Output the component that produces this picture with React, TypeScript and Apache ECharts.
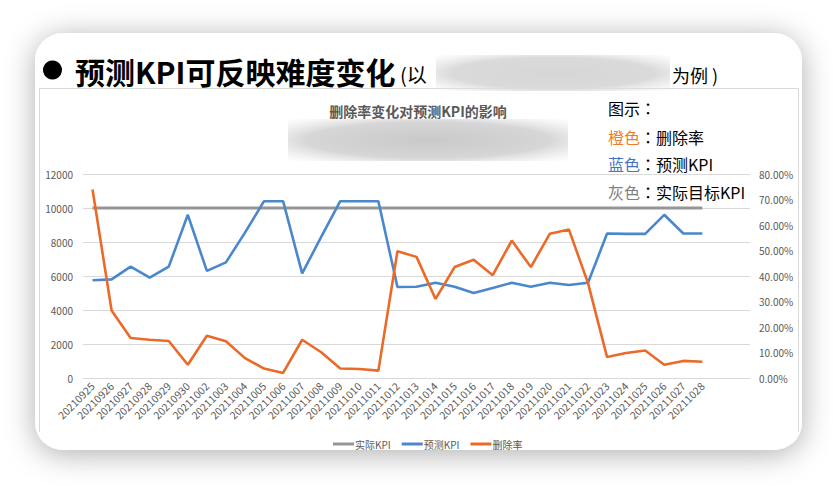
import React, { useEffect, useRef } from "react";
import * as echarts from "echarts";

const dates = [
  "20210925", "20210926", "20210927", "20210928", "20210929", "20210930",
  "20211002", "20211003", "20211004", "20211005", "20211006", "20211007",
  "20211008", "20211009", "20211010", "20211011", "20211012", "20211013",
  "20211014", "20211015", "20211016", "20211017", "20211018", "20211019",
  "20211020", "20211021", "20211022", "20211023", "20211024", "20211025",
  "20211026", "20211027", "20211028",
];
// two trailing empty rows of the source sheet
const blankRows = ["", ""];

const actualKpi = [
  10000, 10000, 10000, 10000, 10000, 10000, 10000, 10000, 10000, 10000, 10000,
  10000, 10000, 10000, 10000, 10000, 10000, 10000, 10000, 10000, 10000, 10000,
  10000, 10000, 10000, 10000, 10000, 10000, 10000, 10000, 10000, 10000, 10000,
];
const predictedKpi = [
  5750, 5800, 6550, 5900, 6550, 9600, 6300, 6800, 8550, 10400, 10400, 6150,
  8300, 10400, 10400, 10400, 5350, 5370, 5600, 5370, 5000, 5300, 5600, 5370,
  5600, 5470, 5600, 8500, 8480, 8480, 9600, 8500, 8500,
];
const deleteRate = [
  0.739, 0.265, 0.157, 0.15, 0.145, 0.052, 0.166, 0.144, 0.078, 0.037, 0.02,
  0.15, 0.101, 0.037, 0.035, 0.029, 0.497, 0.475, 0.31, 0.435, 0.464, 0.403,
  0.539, 0.435, 0.566, 0.582, 0.372, 0.082, 0.098, 0.108, 0.052, 0.067, 0.064,
];

const seriesNames = ["实际KPI", "预测KPI", "删除率"];
const colors = ["#969696", "#4a87cc", "#eb6a28"];
const leftTicks = { min: 0, max: 12000, interval: 2000 };
const rightTicks = { min: 0, max: 0.8, interval: 0.1 };

const FONT = "'Noto Sans CJK SC', 'Microsoft YaHei', sans-serif";
const FONT_TC = "'Noto Sans CJK TC', 'Noto Sans CJK SC', sans-serif";

export default function App() {
  const ref = useRef<HTMLDivElement>(null);
  useEffect(() => {
    if (!ref.current) return;
    const chart = echarts.init(ref.current, null, { renderer: "svg" });
    const cats = [...dates, ...blankRows];
    const blurFill = (center: string, mid: string) =>
      new echarts.graphic.RadialGradient(0.5, 0.5, 0.72, [
        { offset: 0, color: center },
        { offset: 0.6, color: mid },
        { offset: 1, color: "rgba(235,235,235,0)" },
      ]);
    const legendRich = (color: string) => ({
      o: { fill: color, font: `16px ${FONT}` },
      c: { fill: "#000000", font: `16px ${FONT_TC}` },
      k: { fill: "#000000", font: `16px ${FONT}` },
    });
    chart.setOption({
      animation: false,
      backgroundColor: "#ffffff",
      textStyle: { fontFamily: FONT },
      grid: { left: 83, right: 86, top: 174, bottom: 108 },
      legend: {
        data: seriesNames,
        left: 328,
        top: 434,
        icon: "rect",
        itemWidth: 21,
        itemHeight: 3,
        itemGap: 11,
        textStyle: { fontSize: 10, color: "#595959", fontFamily: FONT, padding: [0, 0, 0, -4] },
      },
      xAxis: {
        type: "category",
        data: cats,
        boundaryGap: true,
        axisLine: { show: true, lineStyle: { color: "#d9d9d9", width: 1 } },
        axisTick: { show: false },
        axisLabel: {
          interval: 0,
          rotate: 45,
          fontSize: 10.5,
          color: "#595959",
          margin: 6,
          fontFamily: FONT,
        },
      },
      yAxis: [
        {
          type: "value",
          ...leftTicks,
          axisLine: { show: false },
          axisTick: { show: false },
          splitLine: { lineStyle: { color: "#d9d9d9", width: 1 } },
          axisLabel: {
            fontSize: 10,
            color: "#595959",
            margin: 10,
            fontFamily: FONT,
            formatter: (v: number) => String(v),
          },
        },
        {
          type: "value",
          ...rightTicks,
          position: "right",
          axisLine: { show: false },
          axisTick: { show: false },
          splitLine: { show: false },
          axisLabel: {
            fontSize: 10,
            color: "#595959",
            margin: 9,
            fontFamily: FONT,
            formatter: (v: number) => (v * 100).toFixed(2) + "%",
          },
        },
      ],
      series: [
        {
          name: seriesNames[0],
          type: "line",
          yAxisIndex: 0,
          data: actualKpi,
          showSymbol: false,
          color: colors[0],
          lineStyle: { width: 3, color: colors[0] },
          z: 2,
        },
        {
          name: seriesNames[1],
          type: "line",
          yAxisIndex: 0,
          data: predictedKpi,
          showSymbol: false,
          color: colors[1],
          lineStyle: { width: 2.6, color: colors[1] },
          z: 3,
        },
        {
          name: seriesNames[2],
          type: "line",
          yAxisIndex: 1,
          data: deleteRate,
          showSymbol: false,
          color: colors[2],
          lineStyle: { width: 2.6, color: colors[2] },
          z: 4,
        },
      ],
      graphic: [
        {
          type: "rect",
          z: -10,
          silent: true,
          shape: { x: 35, y: 33, width: 767, height: 417, r: 28 },
          style: {
            fill: "#ffffff",
            shadowBlur: 30,
            shadowColor: "rgba(0,0,0,0.32)",
            shadowOffsetY: 4,
          },
        },
        {
          type: "polyline",
          z: -5,
          silent: true,
          shape: { points: [[39.5, 432], [39.5, 88.5], [798.5, 88.5], [798.5, 432]] },
          style: { stroke: "#d9d9d9", lineWidth: 1, fill: "none" },
        },
        {
          type: "circle",
          shape: { cx: 52.5, cy: 70, r: 9.5 },
          style: { fill: "#000000" },
        },
        {
          type: "text",
          x: 75,
          y: 71,
          style: {
            text: "预测KPI可反映难度变化",
            font: `bold 30px ${FONT}`,
            fill: "#000000",
            textVerticalAlign: "middle",
          },
        },
        {
          type: "text",
          x: 400,
          y: 74,
          style: {
            text: "(以",
            font: `20px ${FONT}`,
            fill: "#000000",
            textVerticalAlign: "middle",
          },
        },
        {
          type: "rect",
          shape: { x: 436, y: 55, width: 234, height: 36 },
          style: { fill: blurFill("#d6d6d6", "#dadada") },
        },
        {
          type: "text",
          x: 672,
          y: 75,
          style: {
            text: "为例 )",
            font: `18px ${FONT}`,
            fill: "#000000",
            textVerticalAlign: "middle",
          },
        },
        {
          type: "text",
          x: 418,
          y: 111,
          style: {
            text: "删除率变化对预测KPI的影响",
            font: `bold 14px ${FONT}`,
            fill: "#595959",
            textAlign: "center",
            textVerticalAlign: "middle",
          },
        },
        {
          type: "rect",
          shape: { x: 288, y: 119, width: 280, height: 42 },
          style: { fill: blurFill("#c9c9c9", "#d6d6d6") },
        },
        {
          type: "text",
          x: 608,
          y: 108,
          style: {
            text: "{k|图示}{c|：}",
            font: `16px ${FONT}`,
            textVerticalAlign: "middle",
            rich: legendRich("#000000"),
          },
        },
        {
          type: "text",
          x: 608,
          y: 137,
          style: {
            text: "{o|橙色}{c|：}{k|删除率}",
            font: `16px ${FONT}`,
            textVerticalAlign: "middle",
            rich: legendRich("#ed7d31"),
          },
        },
        {
          type: "text",
          x: 608,
          y: 164,
          style: {
            text: "{o|蓝色}{c|：}{k|预测KPI}",
            font: `16px ${FONT}`,
            textVerticalAlign: "middle",
            rich: legendRich("#4472c4"),
          },
        },
        {
          type: "text",
          x: 608,
          y: 192,
          style: {
            text: "{o|灰色}{c|：}{k|实际目标KPI}",
            font: `16px ${FONT}`,
            textVerticalAlign: "middle",
            rich: legendRich("#7f7f7f"),
          },
        },
      ],
    });
    return () => chart.dispose();
  }, []);
  return (
    <div
      ref={ref}
      style={{ position: "fixed", left: 0, top: 0, width: 836, height: 486 }}
    />
  );
}
